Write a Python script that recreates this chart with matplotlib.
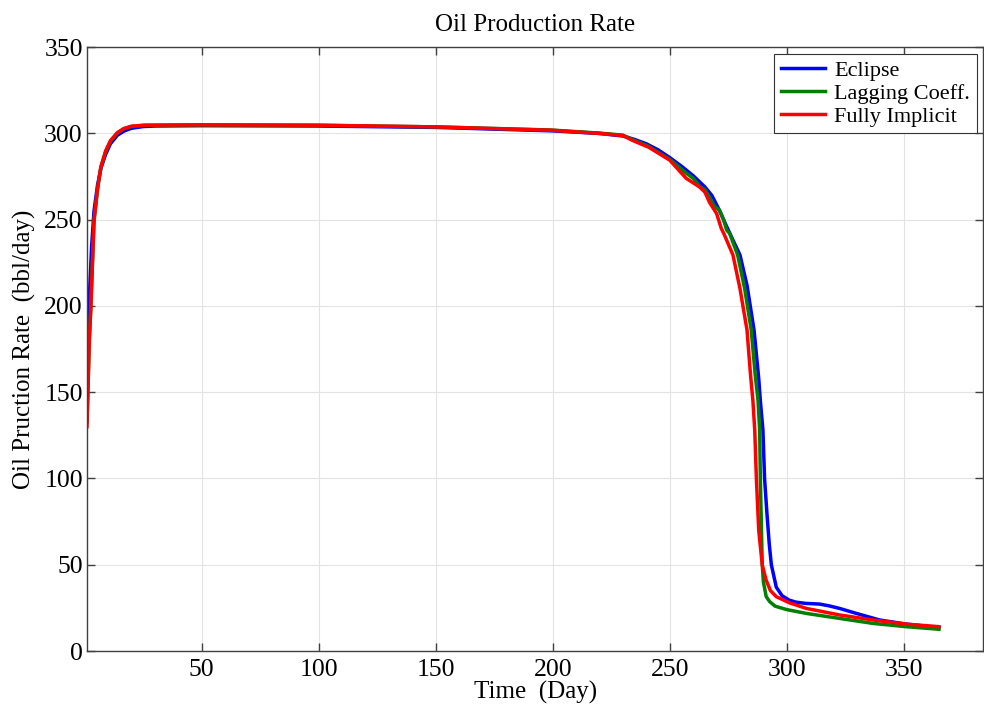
import matplotlib
matplotlib.use("Agg")
import matplotlib.pyplot as plt

plt.rcParams['font.family'] = ['Liberation Serif', 'DejaVu Serif']
plt.rcParams['mathtext.fontset'] = 'stix'

# Eclipse reference run
t_ecl = [1, 1.5, 2, 3, 4, 5.5, 7, 9, 11, 14, 17, 20, 25, 30, 50, 100, 150, 200,
         220, 230, 235, 240, 245, 250, 255, 260, 265, 268, 271, 275, 280, 283,
         286, 288, 288.7, 289.8, 290.5, 291.5, 292.5, 293.4, 295.5, 298, 301,
         304, 308, 314, 318, 322.5, 329.7, 339.6, 351, 358, 365]
q_ecl = [150, 185, 205, 235, 255, 270, 280, 288, 294, 299, 301.5, 303, 304,
         304.3, 304.5, 304.3, 303.5, 301.5, 300, 298.5, 296.5, 294, 290.5, 286,
         281, 275.5, 269, 264, 256, 244, 229.5, 212, 186, 158, 145, 128, 100,
         80, 62, 50, 37, 32, 29.5, 28.3, 27.6, 27.2, 26.2, 24.7, 21.8, 18, 15.6,
         14.6, 13.6]

# lagging coefficient scheme
t_lag = [1, 2, 2.6, 4, 5.5, 6.9, 9, 11.1, 14, 16.8, 20, 25.4, 50, 100, 150, 199,
         220, 230, 234, 241, 250, 257, 260, 263, 265, 267, 269, 271.3, 273,
         274.3, 275.6, 279, 282, 284.8, 286.5, 287.7, 288.4, 288.7, 289.5, 290,
         291.2, 292.7, 295, 300, 308.3, 322.5, 336.8, 351, 365]
q_lag = [133, 181, 198, 249, 267.5, 280, 289.5, 295.5, 300.3, 302.7, 304,
         304.7, 304.9, 304.7, 303.8, 302, 300.2, 299, 296.5, 292.5, 285, 277,
         274, 269, 267.5, 263, 258, 255.5, 250, 244, 242, 229.5, 210, 186, 160,
         145.4, 128, 100, 50, 40, 31.5, 28.6, 26, 24, 21.8, 18.9, 16, 14.1, 12.6]

# fully implicit scheme
t_imp = [1, 2, 2.6, 4, 5.5, 6.9, 9, 11.1, 14, 16.8, 20, 25.4, 50, 100, 150, 199,
         220, 230, 234, 241, 250, 257, 262.7, 265, 267, 270, 272, 273.4, 277,
         280, 283, 284.5, 285.5, 286.3, 287, 288, 289.5, 291.2, 293, 295.5, 301,
         308.3, 322.5, 336.8, 351, 365]
q_imp = [130, 180, 197.6, 249.7, 268, 280.6, 290, 296, 300.5, 302.9, 304.2,
         304.8, 305, 304.8, 303.8, 301.9, 300, 298.8, 296, 292, 284.5, 274, 269,
         266, 260, 253.6, 245, 241, 229.5, 210, 186, 160, 145.4, 128, 100, 70,
         50, 41, 35, 31.5, 28, 24.7, 20.9, 18, 15.6, 14.1]

x_ticks = [50, 100, 150, 200, 250, 300, 350]
y_ticks = [0, 50, 100, 150, 200, 250, 300, 350]

fig = plt.figure(figsize=(9.84, 7.15), dpi=100)
ax = fig.add_axes([0.0884, 0.0895, 0.911, 0.8445])

ax.plot(t_ecl, q_ecl, color='#0000ff', lw=2.5, label='Eclipse')
ax.plot(t_lag, q_lag, color='#008000', lw=2.5, label='Lagging Coeff.')
ax.plot(t_imp, q_imp, color='#ff0000', lw=2.5, label='Fully Implicit')

ax.set_xlim(1, 384)
ax.set_ylim(0, 350)
ax.set_xticks(x_ticks)
ax.set_yticks(y_ticks)
ax.grid(True, color='#e3e3e3', lw=0.8)
ax.set_axisbelow(True)
ax.tick_params(direction='in', length=6, width=1, color='#404040',
               top=True, right=True, labelsize=18.5)
ax.tick_params(axis='y', pad=3)
ax.tick_params(axis='x', pad=6)
for sp in ax.spines.values():
    sp.set_color('#404040')
    sp.set_linewidth(1)

ax.set_title('Oil Production Rate', fontsize=18, pad=12)
ax.set_xlabel('Time  (Day)', fontsize=18, labelpad=0)
ax.set_ylabel('Oil Pruction Rate  (bbl/day)', fontsize=18, labelpad=6)

leg = ax.legend(loc='upper right', fontsize=16, fancybox=False, framealpha=1,
                edgecolor='#333333', handlelength=2.0, borderpad=0.3,
                labelspacing=0.1, handletextpad=0.4, borderaxespad=0.3)
leg.get_frame().set_linewidth(0.8)

fig.savefig('out.png', dpi=100)
